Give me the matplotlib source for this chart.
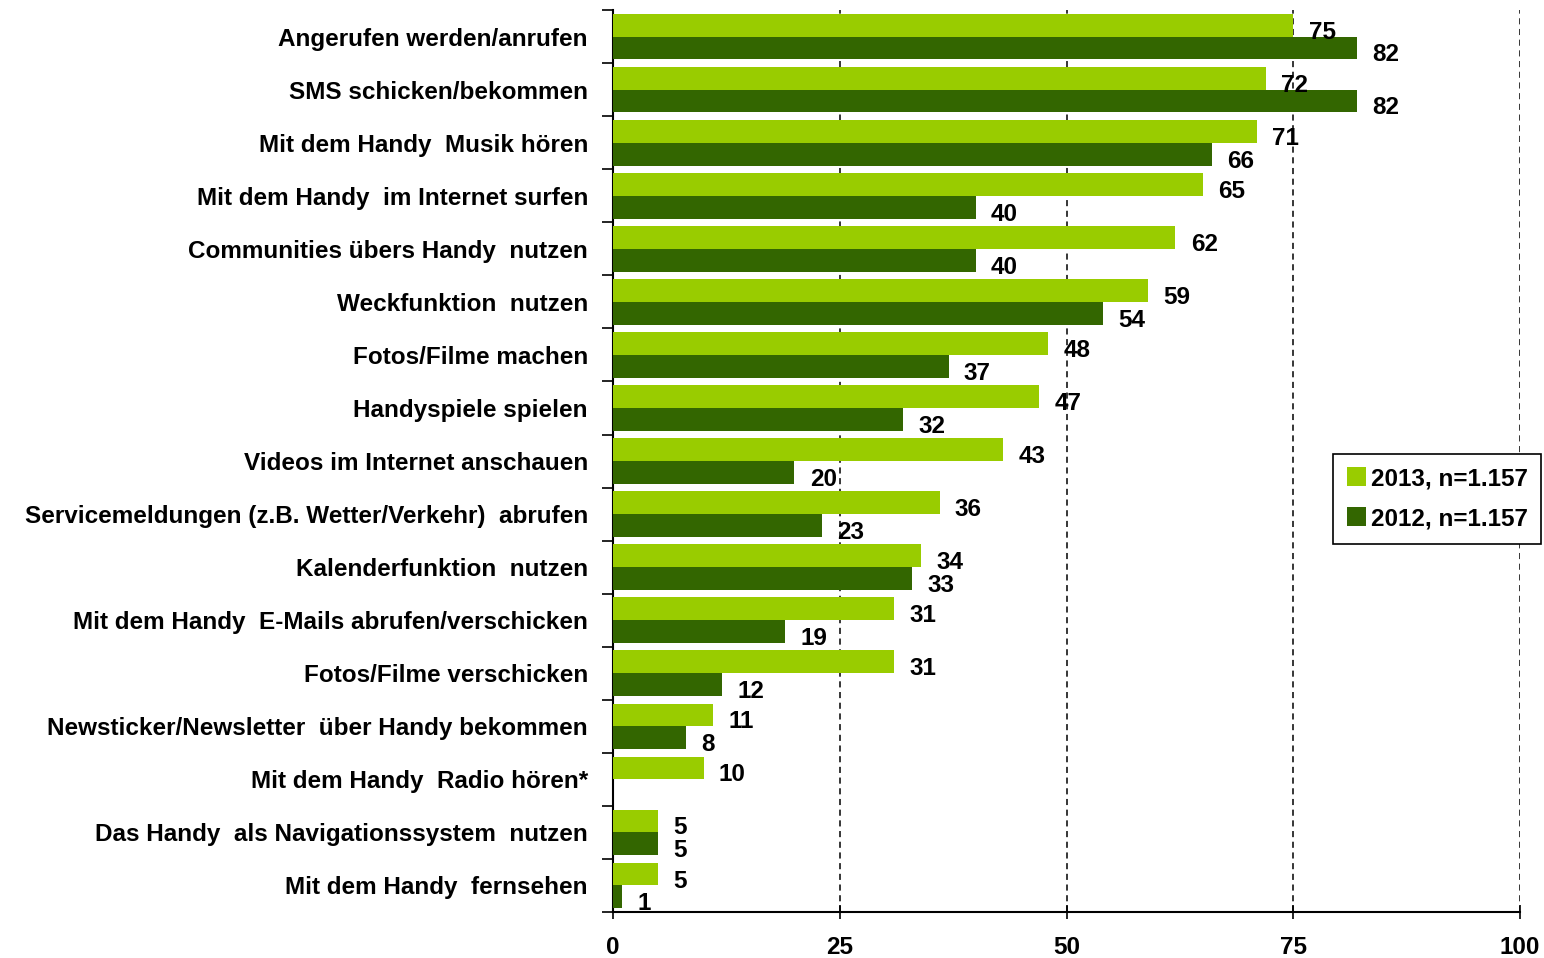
import numpy as np
import matplotlib.pyplot as plt

# Daten (Prozent)
kategorien = [
    "Angerufen werden/anrufen",
    "SMS schicken/bekommen",
    "Mit dem Handy  Musik hören",
    "Mit dem Handy  im Internet surfen",
    "Communities übers Handy  nutzen",
    "Weckfunktion  nutzen",
    "Fotos/Filme machen",
    "Handyspiele spielen",
    "Videos im Internet anschauen",
    "Servicemeldungen (z.B. Wetter/Verkehr)  abrufen",
    "Kalenderfunktion  nutzen",
    "Mit dem Handy  E-Mails abrufen/verschicken",
    "Fotos/Filme verschicken",
    "Newsticker/Newsletter  über Handy bekommen",
    "Mit dem Handy  Radio hören*",
    "Das Handy  als Navigationssystem  nutzen",
    "Mit dem Handy  fernsehen",
]
werte_2013 = [75, 72, 71, 65, 62, 59, 48, 47, 43, 36, 34, 31, 31, 11, 10, 5, 5]
werte_2012 = [82, 82, 66, 40, 40, 54, 37, 32, 20, 23, 33, 19, 12, 8, np.nan, 5, 1]
achsen_ticks = [0, 25, 50, 75, 100]

hell = "#99CC00"
dunkel = "#336600"

plt.rcParams['font.family'] = ['Liberation Sans', 'DejaVu Sans']
plt.rcParams['font.weight'] = 'bold'
fs = 17.5

fig = plt.figure(figsize=(15.44, 9.58), dpi=100)
ax = fig.add_axes([0.397, 0.048, 0.5875, 0.9415])

n = len(kategorien)
y = np.arange(n)
h = 0.43

ax.barh(y - h / 2, werte_2013, height=h, color=hell, label="2013, n=1.157", zorder=3)
ax.barh(y + h / 2, werte_2012, height=h, color=dunkel, label="2012, n=1.157", zorder=3)

# Werte beschriften
for i in range(n):
    for wert, pos in [(werte_2013[i], y[i] - h / 2), (werte_2012[i], y[i] + h / 2)]:
        if np.isnan(wert):
            continue
        ax.annotate(f"{wert:.0f}", (wert, pos), xytext=(11, -5), textcoords="offset points",
                    va="center", ha="left", fontsize=fs, fontweight="bold", zorder=4)

ax.set_xlim(0, 100)
ax.set_ylim(n - 0.5, -0.5)
ax.set_xticks(achsen_ticks)
ax.set_xticklabels([str(t) for t in achsen_ticks], fontsize=fs, fontweight="bold")
ax.tick_params(axis="x", direction="inout", length=10, width=1.2, pad=12)

ax.set_yticks(y)
ax.set_yticklabels(kategorien, fontsize=fs, fontweight="bold")
ax.tick_params(axis="y", length=0, pad=18)
ax.set_yticks(np.arange(-0.5, n, 1), minor=True)
ax.tick_params(axis="y", which="minor", direction="out", length=8, width=1.2)

for v in achsen_ticks[1:]:
    ax.axvline(v, color="black", linestyle=(0, (4, 3)), linewidth=1.1, zorder=1)

ax.spines["top"].set_visible(False)
ax.spines["right"].set_visible(False)
ax.spines["left"].set_linewidth(1.5)
ax.spines["bottom"].set_linewidth(1.5)

leg = ax.legend(loc="upper left", bbox_to_anchor=(0.794, 0.508), fontsize=fs, frameon=True,
                fancybox=False, edgecolor="black", handlelength=0.8, handleheight=0.8,
                handletextpad=0.2, borderpad=0.55, labelspacing=0.7, framealpha=1,
                borderaxespad=0)
leg.get_frame().set_linewidth(1.2)
for t in leg.get_texts():
    t.set_fontweight("bold")

plt.savefig("out.png", dpi=100)
